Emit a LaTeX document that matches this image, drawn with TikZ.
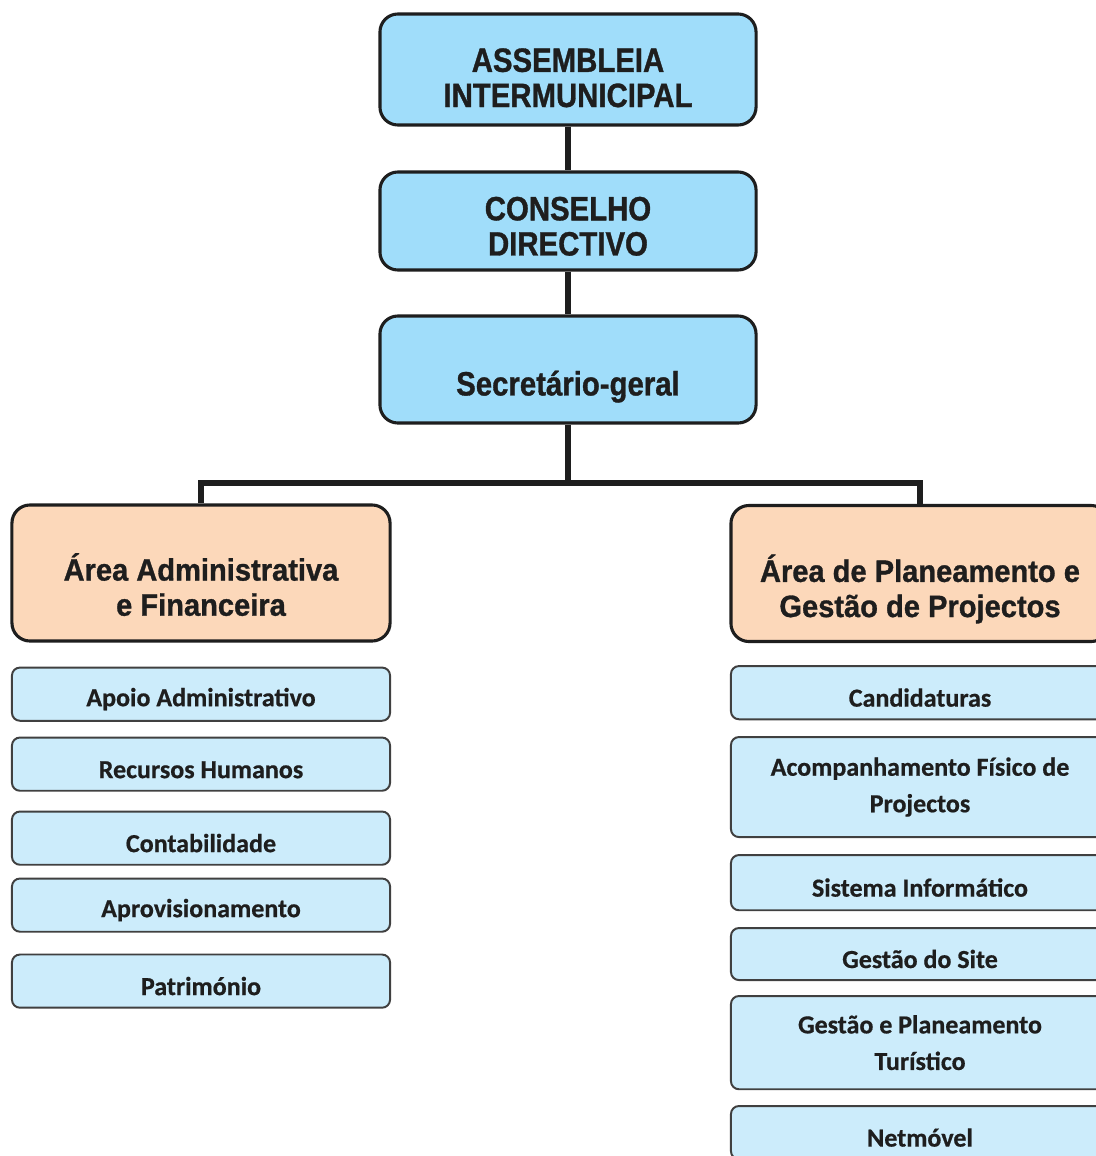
\documentclass[tikz,border=0pt]{standalone}
\usepackage{fontspec}
\setmainfont{Liberation Sans}
\newfontfamily\boardfont[FakeStretch=0.87, FakeBold=1]{Liberation Sans}
\newfontfamily\areafont[FakeStretch=0.94, FakeBold=1]{Liberation Sans}
\newfontfamily\unitfont[FakeBold=0.6]{Carlito}
\usetikzlibrary{positioning}

\definecolor{boardblue}{RGB}{160,221,250}
\definecolor{areapeach}{RGB}{252,216,186}
\definecolor{unitblue}{RGB}{204,236,251}
\definecolor{inkgray}{RGB}{30,30,30}

\newcommand{\push}[1]{\rule{0pt}{#1}}

\tikzset{
  board/.style={draw=inkgray, line width=2.2pt, rounded corners=0.45cm, fill=boardblue,
    minimum width=9.4cm, align=center, text=inkgray,
    font=\boardfont\fontsize{24}{25}\selectfont\bfseries},
  area/.style={board, fill=areapeach, minimum width=9.45cm, minimum height=3.4cm,
    font=\areafont\fontsize{22}{25}\selectfont\bfseries},
  unit/.style={draw=inkgray!85, line width=1.4pt, rounded corners=0.2cm, fill=unitblue,
    minimum width=9.45cm, minimum height=1.33cm, align=center, text=inkgray,
    font=\unitfont\fontsize{18.5}{26}\selectfont\bfseries},
  link/.style={draw=inkgray, line width=4.2pt}
}

\begin{document}
\begin{tikzpicture}[x=0.025cm, y=-0.025cm]
  \useasboundingbox (0,0) rectangle (1096,1156);
  \fill[white] (0,0) rectangle (1096,1156);
  \clip (0,0) rectangle (1096,1156);

  \node[board, minimum height=2.775cm] (asm) at (568,69.5) {\push{28.6pt}ASSEMBLEIA\\INTERMUNICIPAL};
  \node[board, minimum height=2.45cm] (cons) at (568,221) {\push{24.3pt}CONSELHO\\DIRECTIVO};
  \node[board, minimum height=2.675cm] (sec) at (568,369.5) {\push{42pt}Secretário-geral};

  \node[area] (adm) at (201,573) {\push{36pt}Área Administrativa\\e Financeira};
  \node[area] (plan) at (920,573.5) {\push{41.5pt}Área de Planeamento e\\Gestão de Projectos};

  \coordinate (bus) at (568,483);
  \draw[link] (asm) -- (cons);
  \draw[link] (cons) -- (sec);
  \draw[link] (sec) -- (bus);
  \draw[link] (adm.north) |- (bus) -| (plan.north);

  % left column
  \node[unit, below=0.6cm of adm] (apoio) {\push{20pt}Apoio Administrativo};
  \node[unit, below=0.37cm of apoio] (rh) {\push{20pt}Recursos Humanos};
  \node[unit, below=0.47cm of rh] (cont) {\push{20pt}Contabilidade};
  \node[unit, below=0.295cm of cont] (aprov) {\push{20pt}Aprovisionamento};
  \node[unit, below=0.52cm of aprov] (patr) {\push{20pt}Património};

  % right column
  \node[unit, below=0.55cm of plan] (cand) {\push{20pt}Candidaturas};
  \node[unit, minimum height=2.5cm, below=0.395cm of cand] (acomp) {Acompanhamento Físico de\\Projectos};
  \node[unit, minimum height=1.38cm, below=0.4cm of acomp] (sist) {\push{20pt}Sistema Informático};
  \node[unit, minimum height=1.3cm, below=0.395cm of sist] (site) {\push{20pt}Gestão do Site};
  \node[unit, minimum height=2.33cm, below=0.35cm of site] (tur) {Gestão e Planeamento\\Turístico};
  \node[unit, below=0.37cm of tur] (net) {\push{20pt}Netmóvel};
\end{tikzpicture}
\end{document}
